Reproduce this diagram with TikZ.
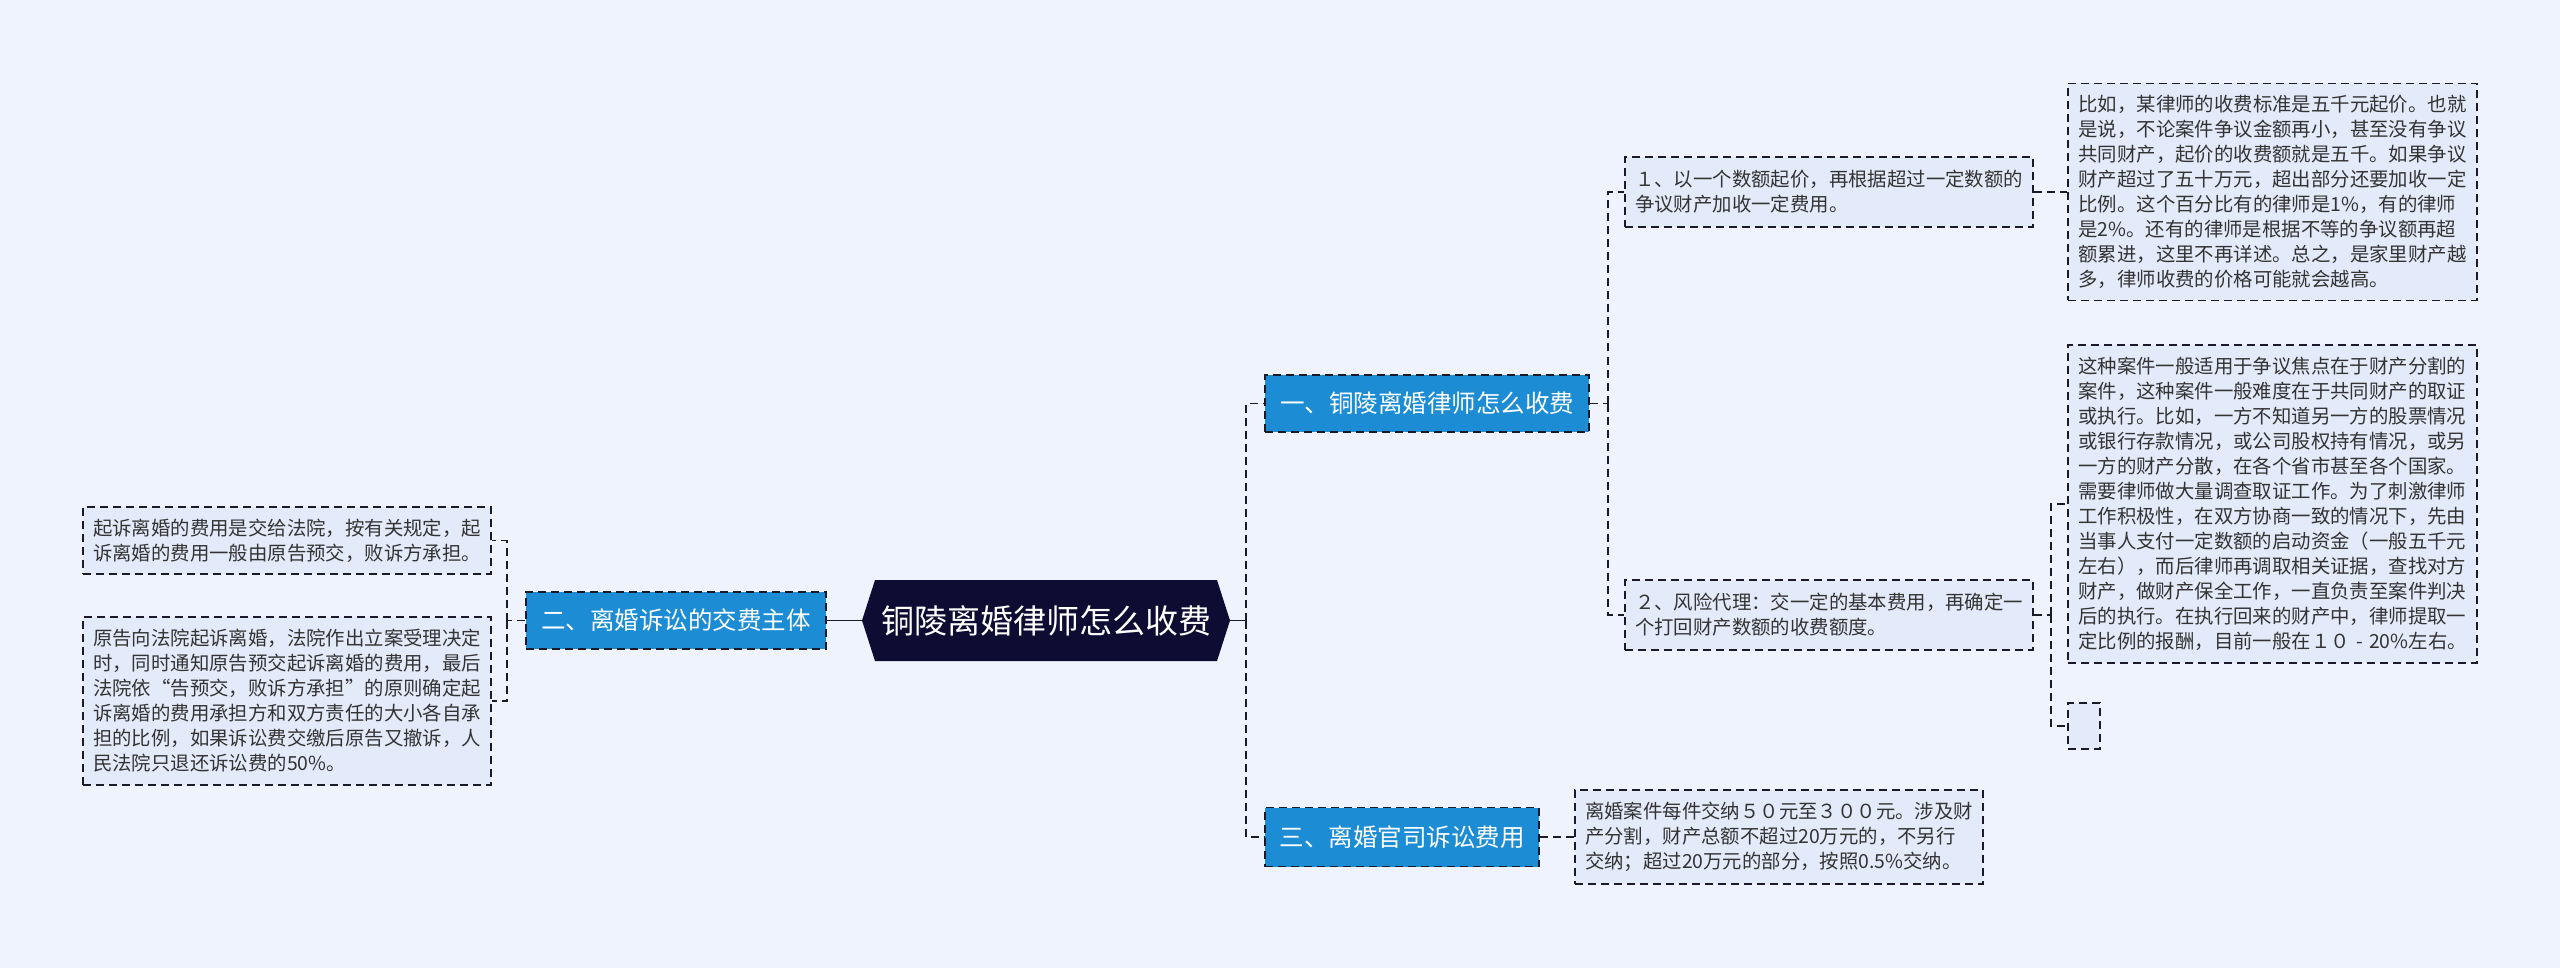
\documentclass[tikz,border=0pt]{standalone}
\usepackage{fontspec}
\setmainfont{Noto Sans CJK SC}
\definecolor{bgc}{HTML}{EEF3FD}
\definecolor{leafc}{HTML}{E3EBFA}
\definecolor{bluec}{HTML}{1C8CD4}
\definecolor{rootc}{HTML}{0F0C33}
\definecolor{linec}{HTML}{1A1A2A}
\definecolor{txtc}{HTML}{333333}
\newcommand{\fwhyph}{\hbox to 1em{\hss-\hss}}
\tikzset{
  dashc/.style={draw=linec, line width=1.8pt, dash pattern=on 8pt off 5pt},
  solidc/.style={draw=linec, line width=1.8pt},
  leaf/.style={rectangle, fill=leafc, dashc, text=txtc, align=left, inner sep=0pt,
    font=\fontsize{19.4}{25}\selectfont},
  topic/.style={rectangle, fill=bluec, dashc, text=white, inner sep=0pt,
    font=\fontsize{24.5}{30}\selectfont},
  rootnode/.style={rectangle, inner sep=0pt, text=white, font=\fontsize{33}{40}\selectfont}
}
\begin{document}
\begin{tikzpicture}[x=1pt,y=-1pt]
\useasboundingbox[fill=bgc] (0,0) rectangle (2560,968);

% root hexagon
\fill[rootc] (862,620.5) -- (875,580) -- (1217,580) -- (1230,620.5) -- (1217,661) -- (875,661) -- cycle;
\node[rootnode, minimum width=368pt, minimum height=81pt] (root) at (1046,620.5) {铜陵离婚律师怎么收费};

% level 1
\node[topic, minimum width=324pt, minimum height=57pt] (b1) at (1427,403.5) {一、铜陵离婚律师怎么收费};
\node[topic, minimum width=274pt, minimum height=59pt] (b3) at (1402,837) {三、离婚官司诉讼费用};
\node[topic, minimum width=300pt, minimum height=57pt] (b2) at (676,620.5) {二、离婚诉讼的交费主体};

% level 2 right
\node[leaf, minimum width=408pt, minimum height=70pt] (c1) at (1829,192) {１、以一个数额起价，再根据超过一定数额的\\争议财产加收一定费用。};
\node[leaf, minimum width=408pt, minimum height=70pt] (c2) at (1829,615) {２、风险代理：交一定的基本费用，再确定一\\个打回财产数额的收费额度。};
\node[leaf, minimum width=408pt, minimum height=94pt] (e1) at (1779,837) {离婚案件每件交纳５０元至３００元。涉及财\\产分割，财产总额不超过20万元的，不另行\\交纳；超过20万元的部分，按照0.5\%交纳。};

% level 3 right
\node[leaf, minimum width=409pt, minimum height=217pt] (d1) at (2272.5,192) {比如，某律师的收费标准是五千元起价。也就\\是说，不论案件争议金额再小，甚至没有争议\\共同财产，起价的收费额就是五千。如果争议\\财产超过了五十万元，超出部分还要加收一定\\比例。这个百分比有的律师是1\%，有的律师\\是2\%。还有的律师是根据不等的争议额再超\\额累进，这里不再详述。总之，是家里财产越\\多，律师收费的价格可能就会越高。};
\node[leaf, minimum width=409pt, minimum height=318pt] (d2) at (2272.5,504) {这种案件一般适用于争议焦点在于财产分割的\\案件，这种案件一般难度在于共同财产的取证\\或执行。比如，一方不知道另一方的股票情况\\或银行存款情况，或公司股权持有情况，或另\\一方的财产分散，在各个省市甚至各个国家。\\需要律师做大量调查取证工作。为了刺激律师\\工作积极性，在双方协商一致的情况下，先由\\当事人支付一定数额的启动资金（一般五千元\\左右），而后律师再调取相关证据，查找对方\\财产，做财产保全工作，一直负责至案件判决\\后的执行。在执行回来的财产中，律师提取一\\定比例的报酬，目前一般在１０\fwhyph 20\%左右。};
\node[leaf, minimum width=32pt, minimum height=46pt] (d3) at (2084,726) {};

% left leaves
\node[leaf, minimum width=408pt, minimum height=67pt] (la) at (287,540.5) {起诉离婚的费用是交给法院，按有关规定，起\\诉离婚的费用一般由原告预交，败诉方承担。};
\node[leaf, minimum width=408pt, minimum height=168pt] (lb) at (287,701) {原告向法院起诉离婚，法院作出立案受理决定\\时，同时通知原告预交起诉离婚的费用，最后\\法院依“告预交，败诉方承担”的原则确定起\\诉离婚的费用承担方和双方责任的大小各自承\\担的比例，如果诉讼费交缴后原告又撤诉，人\\民法院只退还诉讼费的50\%。};

% connectors
\coordinate (busR) at (1246,620.5);
\draw[solidc] (root.east) -- (busR);
\draw[dashc] (busR) |- (b1.west);
\draw[dashc] (busR) |- (b3.west);

\draw[solidc] (root.west) -- (b2.east);
\coordinate (busL) at (507,620.5);
\draw[dashc] (b2.west) -- (busL);
\draw[dashc] (busL) |- (la.east);
\draw[dashc] (busL) |- (lb.east);

\coordinate (bus1) at (1608,403.5);
\draw[dashc] (b1.east) -- (bus1);
\draw[dashc] (bus1) |- (c1.west);
\draw[dashc] (bus1) |- (c2.west);

\draw[dashc] (c1.east) -- (d1.west);

\coordinate (bus2) at (2051,615);
\draw[dashc] (c2.east) -- (bus2);
\draw[dashc] (bus2) |- (d2.west);
\draw[dashc] (bus2) |- (d3.west);

\draw[dashc] (b3.east) -- (e1.west);
\end{tikzpicture}
\end{document}
